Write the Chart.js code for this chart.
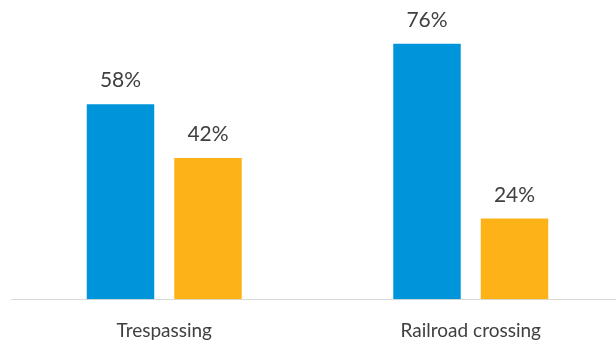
<!DOCTYPE html>
<html>
<head>
<meta charset="utf-8">
<script src="https://cdn.jsdelivr.net/npm/chart.js@4/dist/chart.umd.min.js"></script>
<style>
  html, body { margin: 0; padding: 0; background: #fff; overflow: hidden; }
  #marco { width: 616px; height: 346px; overflow: hidden; }
  #wrap { width: 624px; height: 366px; }
</style>
</head>
<body>
<div id="marco"><div id="wrap"><canvas id="chartBarras"></canvas></div></div>
<script>
const categorias = ['Trespassing', 'Railroad crossing'];
const serieAzul = [58, 76];
const serieNaranja = [42, 24];

const colorAzul = '#0095DA';
const colorNaranja = '#FDB217';
const colorTexto = '#404040';

// etiquetas de porcentaje encima de cada barra
const etiquetasValor = {
    id: 'etiquetasValor',
    afterDatasetsDraw(chart) {
        const ctx = chart.ctx;
        ctx.save();
        ctx.font = '21px Lato';
        ctx.fillStyle = colorTexto;
        ctx.textAlign = 'center';
        ctx.textBaseline = 'alphabetic';
        chart.data.datasets.forEach((ds, i) => {
            chart.getDatasetMeta(i).data.forEach((bar, j) => {
                ctx.fillText(ds.data[j] + '%', bar.x, bar.y - 17);
            });
        });
        ctx.restore();
    }
};

const ctx = document.getElementById('chartBarras').getContext('2d');

const chartBarras = new Chart(ctx, {
    type: 'bar',
    data: {
        labels: categorias,
        datasets: [
            { label: 'A', data: serieAzul, backgroundColor: colorAzul },
            { label: 'B', data: serieNaranja, backgroundColor: colorNaranja }
        ]
    },
    options: {
        responsive: true,
        maintainAspectRatio: false,
        animation: false,
        categoryPercentage: 0.571,
        barPercentage: 0.771,
        layout: { padding: { left: 11, right: 0, top: 0, bottom: 4 } },
        plugins: {
            legend: { display: false },
            tooltip: { enabled: false }
        },
        scales: {
            x: {
                grid: { display: false, drawTicks: false },
                border: { display: true, color: '#d9d9d9', width: 1 },
                ticks: { color: colorTexto, font: { family: 'Lato', size: 19 }, padding: 20 }
            },
            y: {
                display: false,
                min: 0,
                max: 89
            }
        }
    },
    plugins: [etiquetasValor]
});
</script>
</body>
</html>
